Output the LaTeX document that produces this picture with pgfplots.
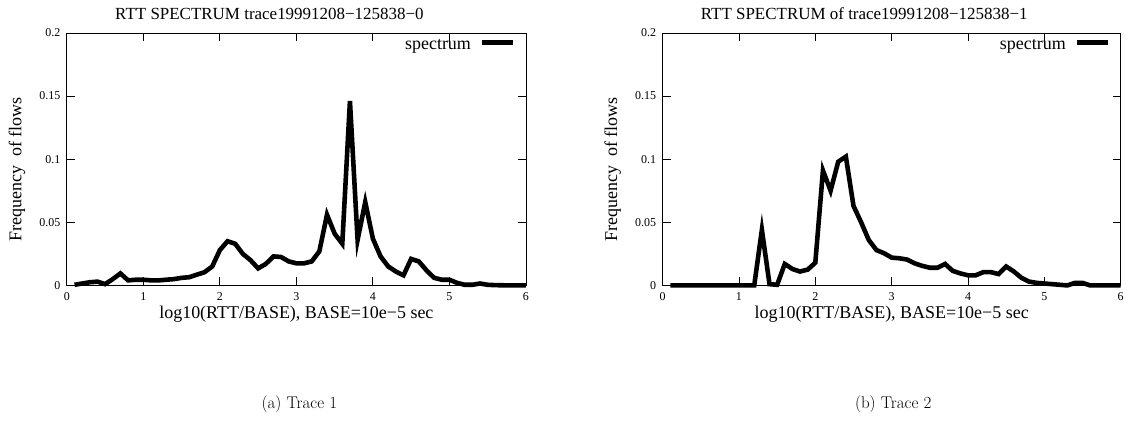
\documentclass[border=0pt]{standalone}
\usepackage{fontspec}
\usepackage{pgfplots}
\pgfplotsset{compat=1.18}
\newfontfamily\gp{Liberation Serif}

% RTT spectrum, trace ...-0
\pgfplotstableread{
x y
0.1 0.0005
0.2 0.0015
0.3 0.0025
0.4 0.003
0.5 0.001
0.6 0.005
0.7 0.0095
0.8 0.004
0.9 0.0045
1.0 0.0045
1.1 0.004
1.2 0.004
1.3 0.0045
1.4 0.005
1.5 0.006
1.6 0.0065
1.7 0.0085
1.8 0.0105
1.9 0.015
2.0 0.028
2.1 0.035
2.2 0.033
2.3 0.025
2.4 0.02
2.5 0.0135
2.6 0.017
2.7 0.023
2.8 0.0225
2.9 0.019
3.0 0.0175
3.1 0.0175
3.2 0.019
3.3 0.027
3.4 0.056
3.5 0.041
3.6 0.033
3.7 0.146
3.8 0.036
3.9 0.066
4.0 0.037
4.1 0.023
4.2 0.015
4.3 0.011
4.4 0.008
4.5 0.021
4.6 0.019
4.7 0.012
4.8 0.006
4.9 0.0045
5.0 0.0045
5.1 0.002
5.2 0.0005
5.3 0.0005
5.4 0.0015
5.5 0.0005
5.6 0.0002
5.7 0.0001
5.8 0
5.9 0
6.0 0
}\traceA

% RTT spectrum, trace ...-1
\pgfplotstableread{
x y
0.1 0
0.2 0
0.3 0
0.4 0
0.5 0
0.6 0
0.7 0
0.8 0
0.9 0
1.0 0
1.1 0
1.2 0
1.3 0.044
1.4 0.001
1.5 0.0005
1.6 0.017
1.7 0.013
1.8 0.011
1.9 0.0125
2.0 0.018
2.1 0.091
2.2 0.075
2.3 0.098
2.4 0.102
2.5 0.063
2.6 0.05
2.7 0.036
2.8 0.028
2.9 0.0255
3.0 0.022
3.1 0.0215
3.2 0.0205
3.3 0.0175
3.4 0.0155
3.5 0.014
3.6 0.014
3.7 0.017
3.8 0.0115
3.9 0.0095
4.0 0.008
4.1 0.008
4.2 0.0105
4.3 0.0105
4.4 0.009
4.5 0.015
4.6 0.011
4.7 0.006
4.8 0.003
4.9 0.002
5.0 0.0015
5.1 0.001
5.2 0.0005
5.3 0
5.4 0.002
5.5 0.002
5.6 0
5.7 0
5.8 0
5.9 0
6.0 0
}\traceB

\pgfplotsset{
  rtt/.style={
    scale only axis,height=253pt,
    xmin=0,xmax=6,ymin=0,ymax=0.2,
    xtick={0,1,2,3,4,5,6},ytick={0,0.05,0.1,0.15,0.2},
    tick align=inside,major tick length=8pt,
    axis line style={line width=0.8pt,black},
    tick style={line width=0.8pt,black},
    clip=false,
    /pgf/number format/assume math mode=true,
    ticklabel style={font=\gp\fontsize{12}{12}\selectfont},
    xticklabel style={yshift=-4pt},
    yticklabel style={xshift=-3pt,/pgf/number format/fixed,/pgf/number format/precision=2},
    xlabel={log10(RTT/BASE), BASE=10e−5 sec},
    xlabel style={font=\gp\fontsize{18}{18}\selectfont,
      at={([yshift=-33pt]axis description cs:0.5,0)},anchor=base},
    ylabel={Frequency\ \ of flows},
    ylabel style={font=\gp\fontsize{18}{18}\selectfont,
      at={([xshift=-50pt]axis description cs:0,0.46)},anchor=center},
    legend plot pos=right,
    legend style={draw=none,fill=none,at={(0.985,0.95)},anchor=east,
      font=\gp\fontsize{18}{18}\selectfont,column sep=9pt,
      nodes={inner sep=0pt}},
    legend image code/.code={\draw[line width=5pt,black] (0pt,0.3em) -- (31pt,0.3em);},
  }
}

\begin{document}
\begin{tikzpicture}
\path (0pt,0pt) rectangle (1127pt,445pt);

\begin{axis}[rtt,width=460pt,at={(67pt,159pt)},anchor=south west]
\addplot[black,line width=4.6pt] table[x=x,y=y]{\traceA};
\addlegendentry{spectrum}
\end{axis}

\begin{axis}[rtt,width=459pt,at={(664pt,159pt)},anchor=south west]
\addplot[black,line width=4.6pt] table[x=x,y=y]{\traceB};
\addlegendentry{spectrum}
\end{axis}

\node[font=\gp\fontsize{17}{17}\selectfont,anchor=base] at (270pt,425pt) {RTT SPECTRUM trace19991208−125838−0};
\node[font=\gp\fontsize{17}{17}\selectfont,anchor=base] at (866pt,425pt) {RTT SPECTRUM of trace19991208−125838−1};

\node[font=\fontsize{17}{17}\selectfont,anchor=base] at (300pt,36pt) {(a) Trace 1};
\node[font=\fontsize{17}{17}\selectfont,anchor=base] at (895pt,36pt) {(b) Trace 2};
\end{tikzpicture}
\end{document}
